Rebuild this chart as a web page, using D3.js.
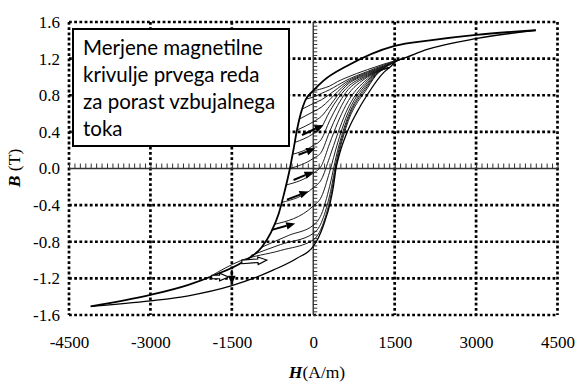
<!DOCTYPE html>
<html><head><meta charset="utf-8">
<script src="https://cdn.jsdelivr.net/npm/d3@7"></script>
<style>body{margin:0;background:#fff} svg{display:block}</style>
</head><body><svg id="c" width="579" height="382"></svg>
<script>
// ---------- data ----------
const hTicks = [-4500, -3000, -1500, 0, 1500, 3000, 4500];
const bTicks = [-1.6, -1.2, -0.8, -0.4, 0.0, 0.4, 0.8, 1.2, 1.6];
const legendLines = ["Merjene magnetilne", "krivulje prvega reda", "za porast vzbujalnega", "toka"];
const minorHStep = 100;
const minorBStep = 0.04;

// major loop, descending branch [H (A/m), B (T)]
const descendingBranch = [[-4100,-1.505],[-3000,-1.38],[-2300,-1.27],[-1800,-1.16],[-1300,-1.02],[-950,-0.86],[-780,-0.70],[-640,-0.50],[-540,-0.28],[-430,0.0],[-360,0.22],[-300,0.42],[-230,0.60],[-150,0.74],[0,0.85],[190,0.96],[620,1.12],[1500,1.34],[2150,1.40],[3000,1.46],[4100,1.51]];
// major loop, ascending branch
const ascendingBranch = [[-4100,-1.505],[-3000,-1.445],[-2300,-1.39],[-1500,-1.28],[-740,-1.11],[-300,-0.98],[0,-0.85],[100,-0.75],[200,-0.60],[310,-0.38],[370,-0.20],[420,0.0],[490,0.17],[620,0.39],[800,0.61],[990,0.80],[1300,1.05],[1400,1.10],[1550,1.18],[1650,1.20],[2100,1.30],[3020,1.42],[4100,1.51]];

// first order reversal curves (increasing excitation)
const forc01 = [[-20,0.83],[0,0.84],[150,0.87],[300,0.90],[450,0.95],[600,0.99],[1000,1.08],[1300,1.14],[1650,1.20]];
const forc02 = [[-120,0.76],[0,0.78],[150,0.82],[300,0.86],[450,0.91],[600,0.96],[1000,1.06],[1300,1.13],[1650,1.20]];
const forc03 = [[-200,0.65],[0,0.71],[150,0.75],[300,0.81],[450,0.875],[600,0.94],[1000,1.05],[1300,1.12],[1650,1.20]];
const forc04 = [[-255,0.54],[0,0.62],[150,0.67],[300,0.75],[450,0.84],[600,0.92],[1000,1.04],[1300,1.115],[1650,1.20]];
const forc05 = [[-300,0.42],[0,0.51],[150,0.57],[300,0.68],[450,0.80],[600,0.90],[1000,1.03],[1300,1.11],[1550,1.18]];
const forc06 = [[-340,0.285],[0,0.38],[150,0.45],[300,0.62],[450,0.76],[600,0.87],[1000,1.02],[1300,1.105],[1550,1.18]];
const forc07 = [[-380,0.155],[0,0.25],[150,0.32],[300,0.52],[450,0.69],[600,0.83],[1000,1.01],[1300,1.10],[1550,1.18]];
const forc08 = [[-430,0.0],[0,0.11],[150,0.18],[300,0.40],[450,0.60],[600,0.77],[1000,1.00],[1300,1.095],[1550,1.18]];
const forc09 = [[-500,-0.18],[0,-0.05],[150,0.03],[300,0.27],[450,0.50],[600,0.69],[1000,0.98],[1200,1.07],[1400,1.10]];
const forc10 = [[-580,-0.37],[0,-0.21],[150,-0.12],[300,0.12],[450,0.38],[600,0.61],[1000,0.96],[1200,1.065],[1400,1.10]];
const forc11 = [[-720,-0.61],[0,-0.41],[150,-0.31],[300,-0.04],[450,0.28],[600,0.55],[1000,0.94],[1200,1.06],[1400,1.10]];
const forc12 = [[-950,-0.86],[-450,-0.73],[0,-0.62],[150,-0.50],[300,-0.20],[450,0.20],[600,0.50],[1000,0.92],[1200,1.055],[1400,1.10]];
const forc13 = [[-1150,-0.95],[-600,-0.83],[0,-0.71],[150,-0.59],[300,-0.30],[450,0.15],[600,0.47],[1000,0.90],[1200,1.05],[1400,1.10]];
const forc14 = [[-1900,-1.18],[-1350,-1.01],[-600,-0.895],[0,-0.78],[150,-0.65],[300,-0.36],[450,0.11],[600,0.44],[1000,0.88],[1200,1.045],[1400,1.10]];
const reversalCurves = [forc01,forc02,forc03,forc04,forc05,forc06,forc07,forc08,forc09,forc10,forc11,forc12,forc13,forc14];

// direction arrows [fromH, fromB, toH, toB, hollow]
const arrows = [
  [-208, 0.366, 190, 0.475, false],
  [-271, 0.15, 37, 0.22, false],
  [-363, -0.126, 6, -0.035, false],
  [-485, -0.34, -87, -0.25, false],
  [-762, -0.67, -332, -0.60, false],
  [-1315, -1.02, -854, -1.00, true],
  [-1870, -1.185, -1560, -1.185, true],
  [-1500, -1.11, -1500, -1.27, false]
];

// ---------- drawing ----------
const svg = d3.select("#c");
const x = d3.scaleLinear().domain([-4500, 4500]).range([69, 557.5]);
const y = d3.scaleLinear().domain([-1.6, 1.6]).range([315, 22]);

// dotted grid
const grid = svg.append("g").attr("stroke", "#000").attr("stroke-width", 2.7).attr("stroke-dasharray", "2.8,2.4");
grid.selectAll("line.v").data(hTicks.filter(d => d !== 0)).join("line").attr("class", "v")
  .attr("x1", d => x(d)).attr("x2", d => x(d)).attr("y1", y(1.6)).attr("y2", y(-1.6));
grid.selectAll("line.h").data(bTicks.filter(d => d !== 0)).join("line").attr("class", "h")
  .attr("y1", d => y(d)).attr("y2", d => y(d)).attr("x1", x(-4500)).attr("x2", x(4500));

// zero axes with minor ticks
svg.append("line").attr("x1", x(-4500)).attr("x2", x(4500)).attr("y1", y(0)).attr("y2", y(0))
  .attr("stroke", "#333").attr("stroke-width", 1.4);
svg.append("line").attr("x1", x(0)).attr("x2", x(0)).attr("y1", y(1.6)).attr("y2", y(-1.6))
  .attr("stroke", "#333").attr("stroke-width", 1.4);

const hMinor = d3.range(-4500, 4500 + 1, minorHStep);
const bMinor = d3.range(Math.round(-1.6 / minorBStep), Math.round(1.6 / minorBStep) + 1).map(i => i * minorBStep);
const mt = svg.append("g").attr("transform", `translate(0,${y(0)})`).call(d3.axisTop(x).tickValues(hMinor).tickSize(5).tickFormat(""));
mt.select(".domain").remove();
mt.selectAll("line").attr("stroke", "#333").attr("stroke-width", 1);
const mr = svg.append("g").attr("transform", `translate(${x(0)},0)`).call(d3.axisRight(y).tickValues(bMinor).tickSize(4).tickFormat(""));
mr.select(".domain").remove();
mr.selectAll("line").attr("stroke", "#333").attr("stroke-width", 1);

// curves
const line = d3.line().x(d => x(d[0])).y(d => y(d[1])).curve(d3.curveMonotoneX);
svg.append("g").attr("fill", "none").attr("stroke", "#111").attr("stroke-width", 0.95)
  .selectAll("path").data(reversalCurves).join("path").attr("d", line);
svg.append("path").attr("d", line(ascendingBranch)).attr("fill", "none").attr("stroke", "#000").attr("stroke-width", 1.3);
svg.append("path").attr("d", line(descendingBranch)).attr("fill", "none").attr("stroke", "#000").attr("stroke-width", 1.8);

// arrows
const ag = svg.append("g");
arrows.forEach(a => {
  const x0 = x(a[0]), y0 = y(a[1]), x1 = x(a[2]), y1 = y(a[3]);
  const dx = x1 - x0, dy = y1 - y0, L = Math.hypot(dx, dy);
  const ux = dx / L, uy = dy / L, nx = -uy, ny = ux;
  const hl = 9, hw = 3.8;
  const bx = x1 - ux * hl, by = y1 - uy * hl;
  if (!a[4]) {
    ag.append("line").attr("x1", x0).attr("y1", y0).attr("x2", bx).attr("y2", by)
      .attr("stroke", "#000").attr("stroke-width", 2);
    ag.append("path").attr("d", `M${x1},${y1}L${bx + nx * hw},${by + ny * hw}L${bx - nx * hw},${by - ny * hw}Z`).attr("fill", "#000");
  } else {
    const sw = 1.8;
    const pts = [
      [x0 + nx * sw, y0 + ny * sw], [bx + nx * sw, by + ny * sw], [bx + nx * hw, by + ny * hw],
      [x1, y1], [bx - nx * hw, by - ny * hw], [bx - nx * sw, by - ny * sw], [x0 - nx * sw, y0 - ny * sw]
    ];
    ag.append("path").attr("d", "M" + pts.map(p => p.join(",")).join("L") + "Z")
      .attr("fill", "#fff").attr("stroke", "#000").attr("stroke-width", 1.1);
  }
});

// legend box
svg.append("rect").attr("x", 73).attr("y", 29).attr("width", 216).attr("height", 117)
  .attr("fill", "#fff").attr("stroke", "#000").attr("stroke-width", 2);
svg.append("g").selectAll("text").data(legendLines).join("text")
  .attr("x", 83).attr("y", (d, i) => 55 + i * 27)
  .attr("font-family", "Lato, 'Open Sans', sans-serif").attr("font-size", 20.5).attr("fill", "#000")
  .text(d => d);

// tick labels
const serif = "'Liberation Serif', 'Times New Roman', serif";
const ax = svg.append("g").attr("transform", `translate(0,${y(-1.6)})`)
  .call(d3.axisBottom(x).tickValues(hTicks).tickSize(0).tickPadding(21).tickFormat(d => String(d)));
ax.select(".domain").remove();
ax.selectAll("text").attr("font-family", serif).attr("font-size", 17).attr("fill", "#000");
const ay = svg.append("g").attr("transform", `translate(${x(-4500)},0)`)
  .call(d3.axisLeft(y).tickValues(bTicks).tickSize(0).tickPadding(9).tickFormat(d => d.toFixed(1)));
ay.select(".domain").remove();
ay.selectAll("text").attr("font-family", serif).attr("font-size", 17).attr("fill", "#000");

// axis titles
const tx = svg.append("text").attr("x", 317).attr("y", 378).attr("text-anchor", "middle")
  .attr("font-family", serif).attr("font-size", 17.5).attr("fill", "#000");
tx.append("tspan").attr("font-weight", "bold").attr("font-style", "italic").text("H");
tx.append("tspan").text("(A/m)");
const ty = svg.append("text").attr("transform", "translate(20,168) rotate(-90)").attr("text-anchor", "middle")
  .attr("font-family", serif).attr("font-size", 17.5).attr("fill", "#000");
ty.append("tspan").attr("font-weight", "bold").attr("font-style", "italic").text("B");
ty.append("tspan").text(" (T)");
</script></body></html>
